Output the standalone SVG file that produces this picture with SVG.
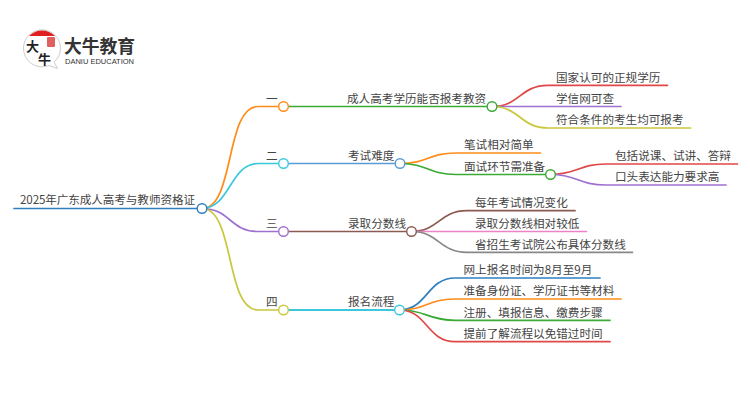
<svg xmlns="http://www.w3.org/2000/svg" width="750" height="410" viewBox="0 0 750 410">
<style>
text{font-family:"Noto Sans CJK SC","Noto Sans",sans-serif;font-size:11.6px;fill:#444}
.c path{fill:none;stroke-width:1.7;stroke-linecap:round}
circle{fill:#fff;stroke-width:1.4}
.or{stroke:#ff8c1a}.gr{stroke:#3aaa35}.bl{stroke:#2f7fc1}.cy{stroke:#3cc8dc}.sb{stroke:#5b9bd5}
.pu{stroke:#a070d0}.ol{stroke:#c8c83c}.re{stroke:#e04848}.br{stroke:#8c5a50}.pk{stroke:#ee82c8}.gy{stroke:#888}
</style>
<rect width="750" height="410" fill="#fff"/>
<g id="logo">
<path d="M42 29.800A18.500 18.500 0 0 1 60.500 48A18.500 18.500 0 0 1 54 62L57.500 68.500L49 65.500A18.500 18.500 0 0 1 23.500 48A18.500 18.500 0 0 1 42 29.800Z" fill="#fff" stroke="#b8b8b8" stroke-width="0.7"/>
<path d="M29 36A18 18 0 0 1 55 36Z" fill="#e02020"/>
<rect x="47" y="37" width="8" height="10" rx="1" fill="#e06060"/>
<text x="26" y="50.500" style="font-size:13px;font-weight:700;fill:#222">大</text>
<text x="38" y="63.500" style="font-size:13px;font-weight:700;fill:#222">牛</text>
<text x="64" y="53" style="font-size:17.800px;font-weight:700;fill:#333">大牛教育</text>
<text x="65" y="63.500" textLength="69" lengthAdjust="spacingAndGlyphs" style="font-family:'Liberation Sans',sans-serif;font-size:7px;fill:#333">DANIU EDUCATION</text>
</g>
<g id="connectors" class="c">
<path class="bl" d="M14 208.500H202"/>
<path class="or" d="M202 208.500C235 208.500 225 106.500 258 106.500H284"/>
<path class="cy" d="M202 208.500C230 208.500 230 163.500 258 163.500H284"/>
<path class="pu" d="M202 208.500C230 208.500 230 231.500 258 231.500H284"/>
<path class="ol" d="M202 208.500C235 208.500 225 310 258 310H284"/>
<path class="gr" d="M284 106.500H492"/>
<path class="sb" d="M284 163.500H400"/>
<path class="br" d="M284 231.500H411.500"/>
<path class="cy" d="M284 310H399.500" style="stroke-width:2"/>
<path class="re" d="M492 106.500C520 106.500 520 85.300 548 85.300H667.500"/>
<path class="pu" d="M492 106.500H621"/>
<path class="ol" d="M492 106.500C520 106.500 520 128 548 128H690.500"/>
<path class="or" d="M400 163.500C428 163.500 428 153 456 153H540.500"/>
<path class="gr" d="M400 163.500C428 163.500 428 174.500 456 174.500H550.500"/>
<path class="re" d="M550.500 174.500C578 174.500 578 164 606 164H737.500"/>
<path class="pu" d="M550.500 174.500C578 174.500 578 185 606 185H726"/>
<path class="br" d="M411.500 231.500C439 231.500 439 210.700 467 210.700H575"/>
<path class="pk" d="M411.500 231.500H586.500"/>
<path class="gy" d="M411.500 231.500C439 231.500 439 252.300 467 252.300H632.500"/>
<path class="bl" d="M399.500 310C427 310 427 278 455 278H600"/>
<path class="or" d="M399.500 310C427 310 427 299 455 299H621"/>
<path class="gr" d="M399.500 310C427 310 427 320.300 455 320.300H610"/>
<path class="re" d="M399.500 310C427 310 427 341.700 455 341.700H610"/>
</g>
<g id="root"><circle class="bl" cx="202" cy="208.500" r="4.800"/><text x="20" y="204" textLength="175">2025年广东成人高考与教师资格证</text></g>
<g id="n1"><circle class="or" cx="283.500" cy="106.500" r="4.800"/><text x="266" y="102.500">一</text></g>
<g id="n2"><circle class="cy" cx="283.500" cy="163.500" r="4.800"/><text x="266" y="159.500">二</text></g>
<g id="n3"><circle class="pu" cx="283.500" cy="231.500" r="4.800"/><text x="266" y="227.500">三</text></g>
<g id="n4"><circle class="ol" cx="283.500" cy="310" r="4.800"/><text x="266" y="306">四</text></g>
<g id="n1a"><circle class="gr" cx="492" cy="106.500" r="4.800"/><text x="347" y="102.500">成人高考学历能否报考教资</text></g>
<g id="n2a"><circle class="sb" cx="400" cy="163.500" r="4.800"/><text x="348" y="159.500">考试难度</text></g>
<g id="n3a"><circle class="br" cx="411.500" cy="231.500" r="4.800"/><text x="348" y="227.500">录取分数线</text></g>
<g id="n4a"><circle class="cy" cx="399.500" cy="310" r="4.800"/><text x="348" y="306">报名流程</text></g>
<g id="n1a1"><text x="556" y="81.500">国家认可的正规学历</text></g>
<g id="n1a2"><text x="556" y="102.500">学信网可查</text></g>
<g id="n1a3"><text x="556" y="124">符合条件的考生均可报考</text></g>
<g id="n2a1"><text x="464" y="149">笔试相对简单</text></g>
<g id="n2a2"><circle class="gr" cx="550.500" cy="174.500" r="4.800"/><text x="464" y="170.500">面试环节需准备</text></g>
<g id="n2a2a"><text x="615" y="160">包括说课、试讲、答辩</text></g>
<g id="n2a2b"><text x="615" y="181">口头表达能力要求高</text></g>
<g id="n3a1"><text x="475" y="206.500">每年考试情况变化</text></g>
<g id="n3a2"><text x="475" y="227.500">录取分数线相对较低</text></g>
<g id="n3a3"><text x="475" y="248.500">省招生考试院公布具体分数线</text></g>
<g id="n4a1"><text x="463.500" y="274">网上报名时间为8月至9月</text></g>
<g id="n4a2"><text x="463.500" y="295">准备身份证、学历证书等材料</text></g>
<g id="n4a3"><text x="463.500" y="316.500">注册、填报信息、缴费步骤</text></g>
<g id="n4a4"><text x="463.500" y="337.500">提前了解流程以免错过时间</text></g>
</svg>
